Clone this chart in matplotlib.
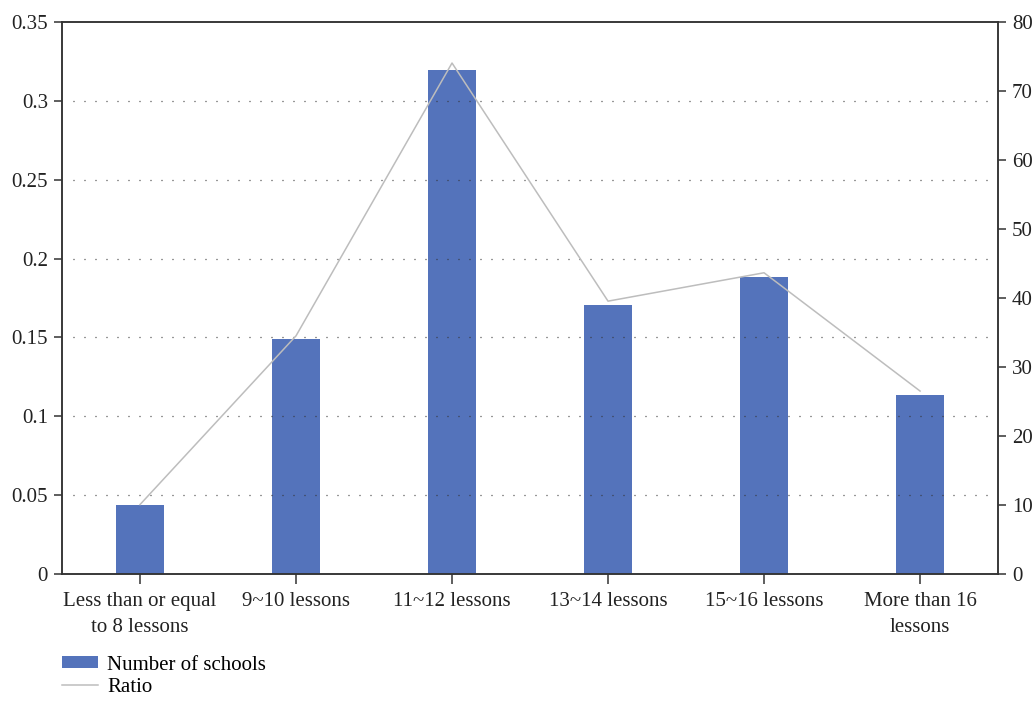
import numpy as np
import matplotlib
matplotlib.use("Agg")
import matplotlib.pyplot as plt
from matplotlib.patches import Patch
from matplotlib.lines import Line2D

categories = ["Less than or equal\nto 8 lessons", "9~10 lessons", "11~12 lessons",
              "13~14 lessons", "15~16 lessons", "More than 16\nlessons"]
schools = [10, 34, 73, 39, 43, 26]
ratio = [0.044, 0.151, 0.324, 0.173, 0.191, 0.116]

plt.rcParams['font.family'] = ['Liberation Serif', 'DejaVu Serif']
plt.rcParams['font.size'] = 15

bar_color = "#5473bb"
line_color = "#bdbdbd"

fig = plt.figure(figsize=(10.35, 7.01), dpi=100)
ax = fig.add_axes([0.0599, 0.1812, 0.9044, 0.7874])
ax2 = ax.twinx()

x = np.arange(len(categories))
ax2.bar(x, schools, width=0.31, color=bar_color, zorder=2)
ax.plot(x, ratio, color=line_color, lw=1.1, zorder=3)

# ratio line sits above the bars
ax.set_zorder(ax2.get_zorder() + 1)
ax.patch.set_visible(False)

ax.set_xlim(-0.5, 5.5)
ax.set_ylim(0, 0.35)
ax.set_yticks([0, 0.05, 0.1, 0.15, 0.2, 0.25, 0.3, 0.35])
ax.set_yticklabels(["0", "0.05", "0.1", "0.15", "0.2", "0.25", "0.3", "0.35"])
ax2.set_ylim(0, 80)
ax2.set_yticks(range(0, 81, 10))

ax.set_xticks(x)
ax.set_xticklabels(categories, linespacing=1.5)

for yv in [0.05, 0.1, 0.15, 0.2, 0.25, 0.3]:
    ax.plot([-0.43, 5.43], [yv, yv], color="#333333", lw=0.9,
            linestyle=(0, (0.8, 8)), zorder=1)

for a in (ax, ax2):
    for s in a.spines.values():
        s.set_color("#333333")
        s.set_linewidth(1.1)
    a.tick_params(direction="out", length=6, width=1.1, color="#333333",
                  labelcolor="#222222", pad=4)
ax.tick_params(axis="x", length=7, pad=6)

handles = [Patch(facecolor=bar_color, edgecolor="none"),
           Line2D([], [], color=line_color, lw=1.1)]
fig.legend(handles, ["Number of schools", "Ratio"], loc="lower left",
           bbox_to_anchor=(0.052, -0.006), frameon=False, borderaxespad=0,
           handlelength=1.7, handleheight=0.5, handletextpad=0.45,
           labelspacing=0.15)

fig.savefig("out.png", dpi=100)
